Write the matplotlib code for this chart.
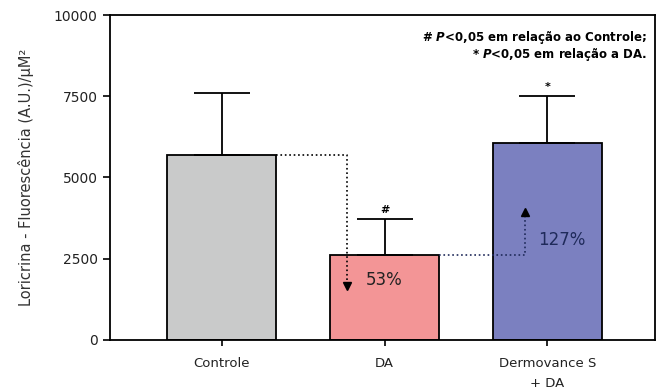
import matplotlib
matplotlib.use("Agg")
import matplotlib.pyplot as plt

plt.rcParams['font.family'] = ['DejaVu Sans']
plt.rcParams['mathtext.fontset'] = 'custom'
plt.rcParams['mathtext.it'] = 'DejaVu Sans:italic:bold'
plt.rcParams['mathtext.rm'] = 'DejaVu Sans:bold'

# Data
categories = ["Controle", "DA", "Dermovance S\n+ DA"]
means = [5700, 2620, 6050]
errors = [1900, 1100, 1450]
colors = ["#c9caca", "#f39596", "#7b80c0"]
signif = ["", "#", "*"]
yticks = [0, 2500, 5000, 7500, 10000]

fig = plt.figure(figsize=(6.63, 3.92), dpi=100)
ax = fig.add_axes([0.166, 0.1327, 0.822, 0.829])

x = list(range(len(categories)))
width = 0.67
ax.bar(x, means, width=width, color=colors, edgecolor="black", linewidth=1.3, zorder=2)
ax.errorbar(x, means, yerr=[[0] * len(errors), errors], fmt="none", ecolor="black",
            elinewidth=1.3, capsize=20, capthick=1.3, zorder=3)

for xi, m, e, s in zip(x, means, errors, signif):
    if s:
        ax.text(xi, m + e + 120, s, ha="center", va="bottom", fontsize=8, fontweight="bold")

ax.set_xlim(-0.684, 2.66)
ax.set_ylim(0, 10000)
ax.set_yticks(yticks)
ax.set_yticklabels([str(t) for t in yticks], fontsize=10, color="#222222")
ax.set_xticks(x)
ax.set_xticklabels(categories, fontsize=9.5, color="#222222", linespacing=1.7)
ax.tick_params(axis="y", length=5, width=1.2, pad=4)
ax.tick_params(axis="x", length=4, width=1.2, pad=8)
for sp in ax.spines.values():
    sp.set_linewidth(1.3)

ax.set_ylabel("Loricrina - Fluorescência (A.U.)/µM²", fontsize=10.5, color="#333333", labelpad=14)

# Percentage change guides
dx1 = 0.77
ax.plot([x[0] + width / 2, dx1, dx1], [means[0], means[0], 1650], ls=":", color="black", lw=1.2, zorder=4)
ax.plot([dx1], [1650], marker="v", color="black", markersize=6, zorder=4)
ax.text(x[1], 1840, "53%", ha="center", va="center", fontsize=12, color="#222222")

dx2 = 1.862
ax.plot([x[1] + width / 2, dx2, dx2], [means[1], means[1], 3950], ls=":", color="#1f2a5a", lw=1.2, zorder=4)
ax.plot([dx2], [3950], marker="^", color="black", markersize=6, zorder=4)
ax.text(2.09, 3080, "127%", ha="center", va="center", fontsize=12, color="#1f2a5a")

# Significance legend
ax.text(0.985, 0.93, r"# $\mathit{P}$<$\mathit{0{,}05}$ em relação ao Controle;", transform=ax.transAxes,
        ha="right", va="center", fontsize=8.5, fontweight="bold")
ax.text(0.985, 0.877, r"* $\mathit{P}$<$\mathit{0{,}05}$ em relação a DA.", transform=ax.transAxes,
        ha="right", va="center", fontsize=8.5, fontweight="bold")

fig.savefig("out.png", dpi=100)
